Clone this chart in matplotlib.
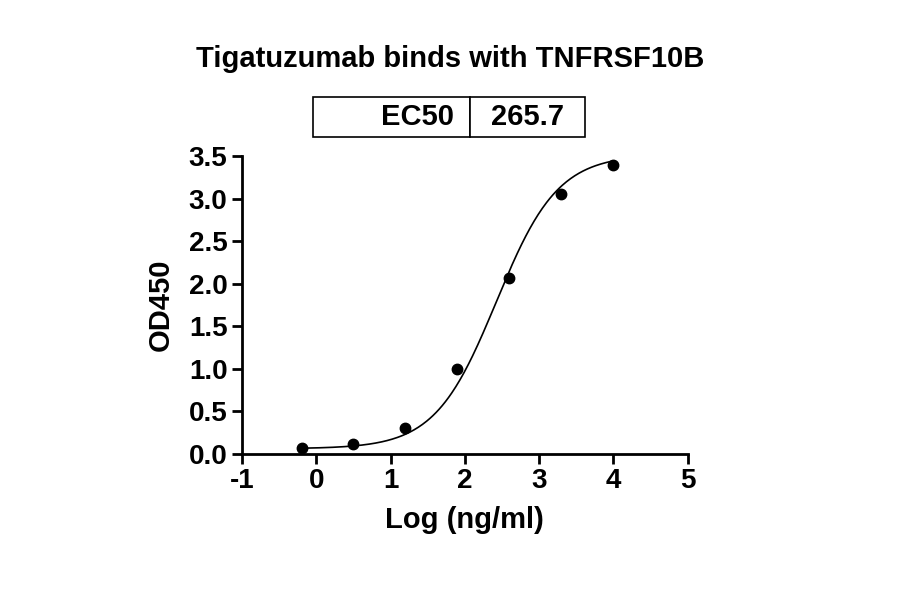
import numpy as np
import matplotlib
matplotlib.use("Agg")
import matplotlib.pyplot as plt

logc = [-0.2, 0.5, 1.2, 1.9, 2.6, 3.3, 4.0]
od = [0.07, 0.11, 0.30, 1.00, 2.07, 3.05, 3.40]
bottom, top, ec50, hill = 0.06, 3.52, 265.7, 1.05
xticks = [-1, 0, 1, 2, 3, 4, 5]
yticks = [0.0, 0.5, 1.0, 1.5, 2.0, 2.5, 3.0, 3.5]

plt.rcParams['font.family'] = ['Liberation Sans', 'DejaVu Sans']
plt.rcParams['font.weight'] = 'bold'
plt.rcParams['axes.unicode_minus'] = False
fig = plt.figure(figsize=(9, 5.94), dpi=100)
ax = fig.add_axes([0.269, 0.236, 0.495, 0.501])
xs = np.linspace(min(logc), max(logc), 300)
ys = bottom + (top - bottom) / (1 + 10 ** ((np.log10(ec50) - xs) * hill))
ax.plot(xs, ys, color='black', lw=1.2)
ax.plot(logc, od, 'o', color='black', ms=7.5)
ax.set_xlim(-1, 5); ax.set_ylim(0, 3.5)
ax.set_xticks(xticks); ax.set_yticks(yticks)
ax.set_yticklabels([f"{v:.1f}" for v in yticks])
for s in ['top', 'right']:
    ax.spines[s].set_visible(False)
for s in ['left', 'bottom']:
    ax.spines[s].set_linewidth(2)
ax.tick_params(width=2, length=7, labelsize=20, direction='out')
ax.set_xlabel('Log (ng/ml)', fontsize=21, fontweight='bold', labelpad=8)
ax.set_ylabel('OD450', fontsize=21, fontweight='bold', labelpad=10)
fig.text(0.5, 0.9, 'Tigatuzumab binds with TNFRSF10B', ha='center', va='center', fontsize=21, fontweight='bold')
tab = ax.table(cellText=[['EC50', '265.7']], bbox=[(313-242)/446, (454-137)/298, (585-313)/446, 40/298], cellLoc='center')
tab.auto_set_font_size(False)
for (r, c), cell in tab.get_celld().items():
    cell.set_fontsize(21); cell.set_linewidth(1.2)
    cell.get_text().set_fontweight('bold')
    if c == 0:
        cell.get_text().set_ha('right')
tab[0, 0].set_width((470-313)/446)
tab[0, 1].set_width((585-470)/446)
fig.savefig('out.png', dpi=100)
